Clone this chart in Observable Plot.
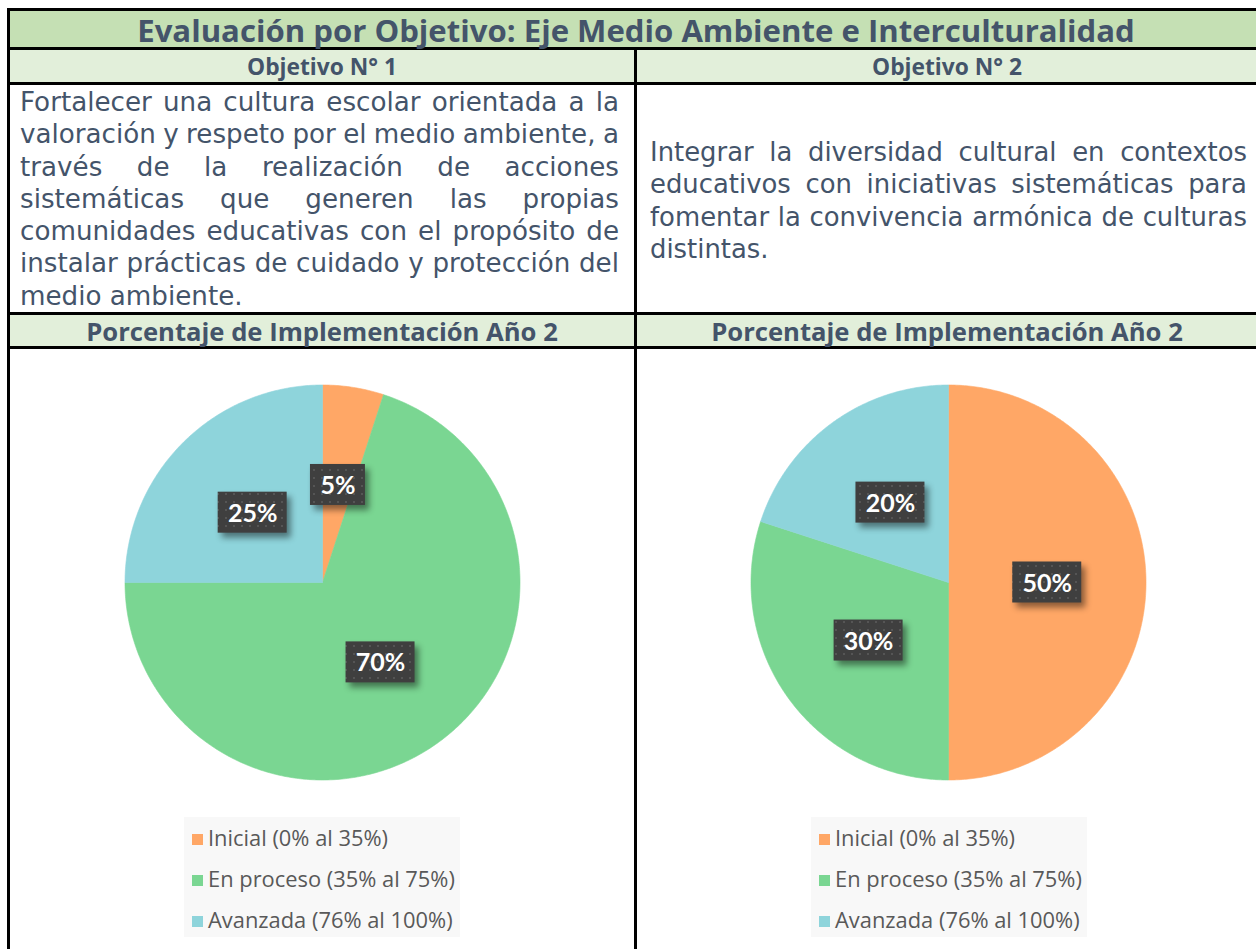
<!DOCTYPE html>
<html><head><meta charset="utf-8">
<script src="https://cdn.jsdelivr.net/npm/d3@7"></script>
<script src="https://cdn.jsdelivr.net/npm/@observablehq/plot@0.6"></script>
<style>
body{margin:0;background:#fff;}
#page{position:relative;width:1256px;height:949px;overflow:hidden;font-family:"Open Sans",Lato,sans-serif;color:#44546a;}
.abs{position:absolute;box-sizing:border-box;}
.blk{position:absolute;background:#000;}
.hdr{position:absolute;text-align:center;font-weight:700;white-space:nowrap;}
.txt{position:absolute;line-height:32.3px;font-family:"DejaVu Sans",sans-serif;}
.jl{display:flex;justify-content:space-between;white-space:nowrap;height:32.3px;}
.ll{white-space:nowrap;height:32.3px;}
.leg{position:absolute;background:#f8f8f8;width:276px;height:120px;}
.li{position:absolute;left:8px;color:#595959;white-space:nowrap;height:41px;line-height:41px;}
.sw{display:inline-block;width:11px;height:11px;margin-right:5px;vertical-align:middle;position:relative;top:-1px;}
.pie{position:absolute;}
#meas{position:absolute;visibility:hidden;white-space:nowrap;left:0;top:0;}
</style>
</head><body><div id="page"></div>
<script>
// ---- data ----
const tituloPrincipal = "Evaluación por Objetivo: Eje Medio Ambiente e Interculturalidad";
const objetivos = ["Objetivo N° 1", "Objetivo N° 2"];
const subtitulo = "Porcentaje de Implementación Año 2";
const texto1 = [
  "Fortalecer una cultura escolar orientada a la",
  "valoración y respeto por el medio ambiente, a",
  "través de la realización de acciones",
  "sistemáticas que generen las propias",
  "comunidades educativas con el propósito de",
  "instalar prácticas de cuidado y protección del",
  "medio ambiente."
];
const texto2 = [
  "Integrar la diversidad cultural en contextos",
  "educativos con iniciativas sistemáticas para",
  "fomentar la convivencia armónica de culturas",
  "distintas."
];
const categories = ["Inicial (0% al 35%)", "En proceso (35% al 75%)", "Avanzada (76% al 100%)"];
const colors = ["#ffa766", "#7ad692", "#8ed4db"];
const objetivo1 = [5, 70, 25];
const objetivo2 = [50, 30, 20];

// ---- layout helpers ----
const page = document.getElementById("page");
const meas = document.createElement("span");
meas.id = "meas";
page.appendChild(meas);
function measure(text, size, weight, family) {
  meas.style.fontSize = size + "px";
  meas.style.fontWeight = weight;
  meas.style.fontFamily = family;
  meas.textContent = text;
  return meas.getBoundingClientRect().width;
}
function fitSize(text, target, weight, family) {
  return 20 * target / measure(text, 20, weight, family || '"Open Sans", Lato, sans-serif');
}
function el(cls, css, html) {
  const d = document.createElement("div");
  d.className = cls;
  Object.assign(d.style, css);
  if (html !== undefined) d.textContent = html;
  page.appendChild(d);
  return d;
}
// backgrounds
el("abs", {left:"10px", top:"11px", width:"1246px", height:"36px", background:"#c5e0b4"});
el("abs", {left:"10px", top:"50px", width:"1246px", height:"32px", background:"#e2efda"});
el("abs", {left:"10px", top:"315px", width:"1246px", height:"31px", background:"#e2efda"});
// borders
el("blk", {left:"7px", top:"8px", width:"1249px", height:"3px"});
el("blk", {left:"7px", top:"8px", width:"3px", height:"941px"});
el("blk", {left:"7px", top:"47px", width:"1249px", height:"3px"});
el("blk", {left:"7px", top:"82px", width:"1249px", height:"3px"});
el("blk", {left:"7px", top:"312px", width:"1249px", height:"3px"});
el("blk", {left:"7px", top:"346px", width:"1249px", height:"3px"});
el("blk", {left:"634px", top:"47px", width:"3px", height:"902px"});
// headers
const fsTitle = fitSize(tituloPrincipal, 998, 700);
const fsObj = fitSize(objetivos[0], 150, 700);
const fsSub = fitSize(subtitulo, 472, 700);
el("hdr", {left:"10px", width:"1252px", top:"11px", height:"36px", lineHeight:"38px", fontSize: fsTitle + "px"}, tituloPrincipal);
el("hdr", {left:"10px", width:"624px", top:"50px", height:"32px", lineHeight:"33px", fontSize: fsObj + "px"}, objetivos[0]);
el("hdr", {left:"637px", width:"620px", top:"50px", height:"32px", lineHeight:"33px", fontSize: fsObj + "px"}, objetivos[1]);
el("hdr", {left:"10px", width:"624px", top:"315px", height:"31px", lineHeight:"33px", fontSize: fsSub + "px"}, subtitulo);
el("hdr", {left:"637px", width:"620px", top:"315px", height:"31px", lineHeight:"33px", fontSize: fsSub + "px"}, subtitulo);
// paragraphs
function para(lines, left, top, width, fitLine) {
  const fs = Math.min(27, fitSize(fitLine, width - 2, 400, '"DejaVu Sans", sans-serif'));
  const d = el("txt", {left: left + "px", top: top + "px", width: width + "px", fontSize: fs + "px"});
  lines.forEach((ln, i) => {
    const row = document.createElement("div");
    if (i < lines.length - 1) {
      row.className = "jl";
      ln.split(" ").forEach(w => { const s = document.createElement("span"); s.textContent = w; row.appendChild(s); });
    } else { row.className = "ll"; row.textContent = ln; }
    d.appendChild(row);
  });
}
para(texto1, 20, 86, 599, texto1[5]);
para(texto2, 650, 136, 597, texto2[2]);

// legends
const fsLeg = fitSize(categories[1], 247, 400);
function legend(left) {
  const d = el("leg", {left: left + "px", top: "817px"});
  categories.forEach((c, i) => {
    const it = document.createElement("div");
    it.className = "li";
    it.style.top = (i * 41) + "px";
    it.style.fontSize = fsLeg + "px";
    const sw = document.createElement("span");
    sw.className = "sw";
    sw.style.background = colors[i];
    it.appendChild(sw);
    it.appendChild(document.createTextNode(c));
    d.appendChild(it);
  });
}
legend(184);
legend(811);

// pies
const R = 197.5, S = 440, K = (S / 2) / R;
function pieChart(values, left, top, pid) {
  const arcs = d3.pie().sort(null)(values);
  const pts = [];
  arcs.forEach((a, i) => {
    const cat = categories[i];
    pts.push({x: 0, y: 0, cat});
    const n = Math.max(2, Math.ceil((a.endAngle - a.startAngle) / 0.01));
    for (let j = 0; j <= n; j++) {
      const t = a.startAngle + (a.endAngle - a.startAngle) * j / n;
      pts.push({x: Math.sin(t), y: Math.cos(t), cat});
    }
    pts.push({x: 0, y: 0, cat});
  });
  const labs = arcs.map((a, i) => {
    const m = (a.startAngle + a.endAngle) / 2;
    const label = values[i] + "%";
    const hw = (label.length === 2 ? 27.5 : 34.5) / R, hh = 20.5 / R;
    const cx = 0.5 * Math.sin(m), cy = 0.5 * Math.cos(m);
    return {cx, cy, x1: cx - hw, x2: cx + hw, y1: cy - hh, y2: cy + hh, label};
  });
  const svg = Plot.plot({
    width: S, height: S, margin: 0,
    style: {background: "transparent", overflow: "visible"},
    x: {domain: [-K, K], axis: null},
    y: {domain: [-K, K], axis: null},
    color: {domain: categories, range: colors},
    marks: [
      Plot.line(pts, {x: "x", y: "y", z: "cat", fill: "cat", stroke: "cat", strokeWidth: 0.6, curve: "linear"}),
      Plot.rect(labs, {x1: "x1", x2: "x2", y1: "y1", y2: "y2", fill: "#404040"}),
      Plot.text(labs, {x: "cx", y: "cy", text: "label", fill: "white", fontSize: 25, fontWeight: "bold", fontFamily: "Lato, sans-serif", dy: 1})
    ]
  });
  svg.classList.add("pie");
  svg.style.left = left + "px";
  svg.style.top = top + "px";
  const defs = d3.select(svg).insert("defs", ":first-child");
  const pat = defs.append("pattern").attr("id", pid).attr("patternUnits", "userSpaceOnUse").attr("width", 8).attr("height", 8);
  pat.append("rect").attr("width", 8).attr("height", 8).attr("fill", "#3f3f3f");
  pat.append("rect").attr("x", 3).attr("y", 3).attr("width", 2).attr("height", 2).attr("fill", "#555555");
  d3.select(svg).selectAll('g[aria-label="rect"] rect')
    .attr("fill", `url(#${pid})`)
    .style("filter", "drop-shadow(4px 5px 3px rgba(0,0,0,0.45))");
  page.appendChild(svg);
}
pieChart(objetivo1, 322 - S / 2, 582 - S / 2, "dots1");
pieChart(objetivo2, 948 - S / 2, 582 - S / 2, "dots2");
</script>
</body></html>
